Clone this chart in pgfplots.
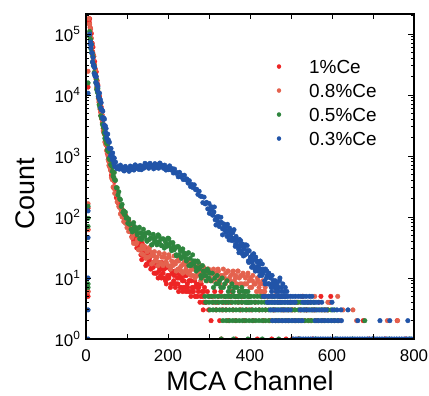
\documentclass[border=0pt]{standalone}
\usepackage{fontspec}
\setmainfont{Liberation Sans}
\usepackage{pgfplots}
\pgfplotsset{compat=1.18}
\definecolor{cred}{RGB}{237,36,36}
\definecolor{csalmon}{RGB}{228,98,78}
\definecolor{cgreen}{RGB}{46,133,62}
\definecolor{cblue}{RGB}{33,84,168}
\pgfplotsset{dots/.style={only marks, mark=*, mark size=2.3bp}}
\begin{document}
\begin{tikzpicture}
\useasboundingbox (-86bp,-57bp) rectangle (343bp,339bp);
\begin{axis}[
  at={(0,0)}, anchor=south west,
  scale only axis, width=328bp, height=325bp,
  xmin=0, xmax=800, ymode=log, ymin=1, ymax=213000,
  xtick={0,100,200,300,400,500,600,700,800}, xticklabels={0,,200,,400,,600,,800},
  ytick={1,10,100,1000,10000,100000},
  yticklabels={10\textsuperscript{0},10\textsuperscript{1},10\textsuperscript{2},10\textsuperscript{3},10\textsuperscript{4},10\textsuperscript{5}},
  minor ytick={2,3,4,5,6,7,8,9,20,30,40,50,60,70,80,90,200,300,400,500,600,700,800,900,2000,3000,4000,5000,6000,7000,8000,9000,20000,30000,40000,50000,60000,70000,80000,90000,200000},
  tick align=inside, major tick length=5.5bp, minor tick length=3bp,
  every tick/.style={black, line width=0.9bp},
  axis line style={line width=1.3bp},
  tick label style={font=\fontsize{17}{17}\selectfont},
  xticklabel style={yshift=-7bp},
  yticklabel style={xshift=-2bp},
  axis on top, clip marker paths=true,
  legend style={draw=none, fill=none, at={(axis description cs:0.572,0.882)}, anchor=north west,
    font=\fontsize{19}{19}\selectfont, row sep=0bp,
    nodes={text height=13bp, text depth=0bp, inner ysep=5.5bp, inner xsep=3bp}},
  legend cell align=left,
  legend image code/.code={\draw[#1, mark size=2bp] plot coordinates {(0bp,0bp)}; \path (-2bp,0bp) (27bp,0bp);},
]
% 1% Ce
\addplot[color=cred, dots] coordinates {
(5,13500)(5,140)(5,62)(5,6)(5,5)
(7,170000)(8,155000)(9,178000)(10,129000)(11,120000)(12,85100)(13,102000)(14,70800)(15,70800)(16,51300)(17,61000)(18,43700)(19,43200)(20,31600)(21,35500)(22,24000)(23,26300)(24,20900)(25,24000)(26,17400)(27,17400)(28,12300)(29,14500)(30,10700)(31,10350)(32,7590)(33,9440)(34,6760)(35,7000)(36,5250)(37,6380)(38,4680)(39,4730)(40,3550)(41,4070)(42,2820)(43,3160)(44,2570)(45,3020)(46,2240)(47,2290)(48,1660)(49,1995)(50,1510)(51,1480)(52,1096)(53,1380)(54,1000)(55,1047)(56,804)(57,1000)(58,750)(59,776)(60,596)(61,692)(62,484)(63,550)(64,452)(65,537)(66,406)(67,423)(68,312)(69,382)(70,295)
(72,292)(74,207)(76,210)(78,172)(80,191)(82,149)(84,148)(86,117)(88,134)(90,108)(92,109)(94,89)(96,108)(98,87)(100,93)(102,74)(104,88)(106,70)(108,71)(110,58)
(112,48)(113,68)(115,62)(116,41)(118,46)(119,51)(121,61)(122,39)(124,31)(125,52)(127,41)(128,35)(130,29)(131,39)(133,40)(134,24)(136,20)(137,37)(139,28)(140,24)(142,23)(143,25)(145,31)(146,16)(148,17)(149,27)(151,24)(152,17)(154,19)(155,21)(157,26)(158,14)(160,15)(161,24)(163,18)(164,15)(166,12)(167,18)(169,19)(170,12)(172,12)(173,18)(175,16)(176,10)(178,13)(179,15)(181,18)(182,11)(184,10)(185,18)(187,14)(188,12)(190,10)(191,14)(193,15)(194,9)(196,8)(197,15)(199,11)(200,10)(202,10)(203,11)(205,14)(206,7)(208,8)(209,13)(211,12)(212,8)(214,9)(215,11)(217,13)(218,7)(220,8)(221,12)(223,10)(224,8)(226,6)(227,10)(229,11)(230,7)(232,7)(233,10)(235,9)(236,6)(238,7)(239,9)(241,11)(242,7)(244,6)(245,11)(247,8)(248,7)(250,6)(251,9)(253,9)(254,6)(256,5)(257,9)(259,7)(260,6)(262,6)(263,7)(265,9)(266,5)(268,5)(269,8)(271,7)(272,5)(274,6)(275,7)(277,8)(278,4)(280,5)(281,8)(283,6)(284,5)(286,4)(286,3)(287,6)(289,7)(290,4)
(293,4)(296,6)(299,3)(302,5)(305,2)(308,5)(311,4)(314,6)(317,3)(320,4)(323,5)(326,2)(329,6)(332,3)(335,4)(338,5)(341,3)(344,4)(347,2)(350,5)(353,4)(356,6)(359,3)(362,5)(365,2)(368,5)(371,4)(374,6)(377,3)(380,4)(383,5)(386,2)(389,6)(392,3)(395,4)(398,5)(403,3)(408,2)(413,4)(418,1)(423,3)(428,5)(433,2)(438,3)(443,4)(448,2)(453,1)(458,3)(463,2)(468,4)(473,5)(478,2)(483,3)(488,1)(493,2)(498,4)(503,3)(508,2)(513,4)(518,1)(523,3)(528,5)(533,2)(538,3)(543,4)(548,2)(553,1)(558,3)(563,2)(568,4)(573,5)(578,2)(583,3)(590,3)(595,4)(597,5)(605,2)(615,2)(676,2)(700,1)(730,1)(759,2)(780,1)(330,1)(365,1)
};
\addlegendentry{1\%Ce}
% 0.8% Ce
\addplot[color=csalmon, dots] coordinates {
(5,24500)(5,165)(5,62)(5,6)
(7,180000)(8,145000)(9,145000)(10,105000)(11,123000)(12,87100)(13,85100)(14,61700)(15,67600)(16,44700)(17,48400)(18,38000)(19,43200)(20,30900)(21,30900)(22,21900)(23,25700)(24,19100)(25,18200)(26,13200)(27,16200)(28,11500)(29,11700)(30,8710)(31,10600)(32,7760)(33,7850)(34,5890)(35,6680)(36,4570)(37,5070)(38,4070)(39,4730)(40,3470)(41,3550)(42,2570)(43,3090)(44,2340)(45,2290)(46,1700)(47,2140)(48,1550)(49,1620)(50,1230)(51,1510)(52,1120)(53,1150)(54,871)(55,1000)(56,700)(57,794)(58,653)(59,776)(60,582)(61,603)(62,442)(63,537)(64,412)(65,407)(66,309)(67,398)(68,295)(69,316)(70,245)
(72,242)(74,234)(76,177)(78,194)(80,149)(82,143)(84,112)(86,129)(88,100)(90,104)(92,84)(94,99)(96,79)(98,81)(100,67)(102,75)(104,58)(106,65)(108,57)(110,66)
(113,54)(116,37)(119,54)(122,36)(125,42)(128,29)(131,44)(134,30)(137,34)(140,24)(143,33)(146,21)(149,27)(152,22)(155,32)(158,23)(161,26)(164,18)(167,27)(170,20)(173,22)(176,16)(179,25)(182,18)(185,22)(188,16)(191,25)(194,18)(197,21)(200,16)(203,22)(206,14)(209,19)(212,16)(215,23)(218,17)(221,19)(224,14)(227,20)(230,15)(233,16)(236,12)(239,18)(242,13)(245,16)(248,12)(251,18)(254,13)(257,15)(260,11)(263,16)(266,10)(269,14)(272,11)(275,17)(278,12)(281,14)(284,10)(287,15)(290,11)(293,12)(296,9)(299,14)(302,10)(305,12)(308,9)(311,14)(314,11)(317,12)(320,9)(323,13)(326,8)(329,11)(332,10)(335,14)(338,10)(341,12)(344,9)(347,13)(350,10)(353,11)(356,8)(359,13)(362,9)(365,11)(368,8)(371,13)(374,10)(377,11)(380,8)(383,12)(386,8)(389,10)(392,8)(395,12)(398,9)(401,10)(404,7)(407,11)(410,8)(413,8)(416,6)(419,9)(422,7)(425,8)(428,6)(431,9)(434,6)(437,7)(440,5)
(112,46)(118,52)(124,38)(130,44)(136,25)(142,30)(148,22)(154,29)(160,17)(166,23)(172,19)(178,26)(184,17)(190,22)(196,18)(202,24)(208,16)(214,18)(220,13)(226,19)(232,13)(238,17)(244,14)(250,18)(256,11)(262,14)(268,11)(274,15)(280,9)(286,12)(292,11)(298,14)(304,9)(310,13)(316,11)(322,14)(328,10)(334,11)(340,8)(346,13)(352,9)(358,12)(364,10)(370,13)(376,8)(382,11)(388,8)(394,11)(400,7)(406,9)(412,8)(418,10)(424,6)(430,8)(436,6)
(443,4)(448,2)(453,5)(458,3)(463,6)(468,2)(473,4)(478,3)(483,5)(488,2)(493,3)(498,4)(503,1)(508,3)(513,2)(518,4)(523,2)(528,5)(533,3)(538,3)(543,2)(548,4)(553,3)(558,5)(575,3)(590,4)(614,5)(620,2)(627,3)(651,3)(660,2)(690,1)(735,2)(760,2)
};
\addlegendentry{0.8\%Ce}
% 0.5% Ce
\addplot[color=cgreen, dots] coordinates {
(5,15800)(5,150)(5,95)(5,70)(5,8)(5,7)
(8,93300)(9,110000)(10,81300)(11,81300)(12,57500)(13,67600)(14,50100)(15,47900)(16,34700)(17,42700)(18,30200)(19,31300)(20,23400)(21,28500)(22,20900)(23,21100)(24,15800)(25,18000)(26,12300)(27,13600)(28,11000)(29,12700)(30,9330)(31,9550)(32,6920)(33,8320)(34,6310)(35,6170)(36,4570)(37,5750)(38,4170)(39,4370)(40,3310)(41,4070)(42,3020)(43,3130)(44,2400)(45,2790)(46,1950)(47,2210)(48,1820)(49,2160)(50,1620)(51,1700)(52,1260)(53,1550)(54,1200)(55,1200)(56,912)(57,1175)(58,871)(59,933)(60,724)(61,912)(62,692)(63,724)(64,562)(65,661)(66,468)(67,537)(68,447)(69,537)(70,407)
(72,400)(74,302)(76,301)(78,230)(80,259)(82,199)(84,192)(86,149)(88,161)(90,119)(92,126)(94,109)(96,120)(98,96)(100,98)(102,79)(104,93)(106,76)(108,77)(110,63)
(113,57)(116,81)(119,60)(122,66)(125,51)(128,65)(131,44)(134,55)(137,47)(140,63)(143,48)(146,54)(149,40)(152,56)(155,43)(158,46)(161,35)(164,52)(167,39)(170,46)(173,35)(176,51)(179,39)(182,44)(185,34)(188,44)(191,31)(194,39)(197,33)(200,45)(203,34)(206,38)(209,28)(212,38)(215,29)(218,31)(221,23)(224,33)(227,24)(230,28)(233,21)(236,30)(239,23)(242,25)(245,19)(248,25)(251,16)(254,21)(257,17)(260,24)(263,17)(266,19)(269,13)(272,19)(275,14)(278,15)(281,10)(284,16)(287,11)(290,13)(293,9)(296,14)(299,10)(302,12)(305,9)(308,12)(311,7)(314,10)(317,8)(320,11)(323,8)(326,9)(329,7)(332,10)(335,7)(338,8)(341,5)(344,9)(347,6)(350,7)(353,5)(356,8)(359,6)(362,7)(365,5)(368,7)(371,5)(374,6)(377,5)(380,7)(383,6)(386,5)(389,6)(392,4)(395,6)(398,5)(400,4)
(112,61)(118,70)(124,56)(130,68)(136,43)(142,53)(148,42)(154,54)(160,35)(166,44)(172,39)(178,49)(184,34)(190,43)(196,36)(202,44)(208,30)(214,33)(220,24)(226,32)(232,22)(238,26)(244,21)(250,26)(256,16)(262,19)(268,15)(274,18)(280,11)(286,13)(292,11)(298,13)
(290,5)(298,5)(306,5)(314,5)(322,5)(330,5)(338,5)(346,5)(354,5)(362,5)(370,5)(378,5)(386,5)(394,5)(402,5)(410,5)(418,5)(426,5)(434,5)(445,5)(458,5)(470,5)
(292,4)(300,4)(308,4)(316,4)(324,4)(332,4)(340,4)(348,4)(356,4)(364,4)(372,4)(380,4)(388,4)(396,4)(404,4)(412,4)(420,4)(428,4)(436,4)(444,4)(452,4)(460,4)(468,4)(476,4)(484,4)(492,4)(500,4)(508,4)(516,4)(524,4)(532,4)(540,4)(548,4)(556,4)
(302,3)(310,3)(318,3)(326,3)(334,3)(342,3)(350,3)(358,3)(366,3)(374,3)(382,3)(390,3)(398,3)(406,3)(414,3)(422,3)(430,3)(438,3)(446,3)(454,3)(462,3)(470,3)(478,3)(486,3)(494,3)(502,3)(510,3)(518,3)(526,3)(534,3)(542,3)(550,3)(558,3)(566,3)(574,3)(582,3)(590,3)(598,3)(606,3)
(334,2)(342,2)(350,2)(358,2)(366,2)(374,2)(382,2)(390,2)(398,2)(406,2)(414,2)(422,2)(430,2)(438,2)(446,2)(454,2)(462,2)(470,2)(478,2)(486,2)(494,2)(502,2)(510,2)(518,2)(526,2)(534,2)(542,2)(550,2)(558,2)(566,2)(574,2)(582,2)(590,2)(598,2)(606,2)(614,2)(680,2)
(330,1)(360,1)(395,1)(430,1)(470,1)(520,1)(560,1)(610,1)(650,1)(700,1)(740,1)(790,1)
};
\addlegendentry{0.5\%Ce}
% 0.3% Ce
\addplot[color=cblue, dots] coordinates {
(5,10700)(5,126)(5,46)(5,10)(5,3)(5,1)
(9,100000)(10,67600)(11,74100)(12,58900)(13,67600)(14,49000)(15,49000)(16,34700)(17,41200)(18,30900)(19,30200)(20,22400)(21,28200)(22,20400)(23,21400)(24,16200)(25,19950)(26,14800)(27,15300)(28,11750)(29,13650)(30,9550)(31,10840)(32,8910)(33,10720)(34,8130)(35,8410)(36,6170)(37,7500)(38,5750)(39,5690)(40,4270)(41,5430)(42,3980)(43,4220)(44,3240)(45,4030)(46,3020)(47,3130)(48,2400)(49,2820)(50,1995)(51,2290)(52,1905)(53,2290)(54,1740)(55,1820)(56,1350)(57,1680)(58,1320)(59,1330)(60,1023)(61,1330)(62,1000)(63,1096)(64,871)(65,1122)(66,871)(67,944)(68,759)(69,923)(70,676)
(72,794)(75,624)(78,676)(81,610)(84,708)(87,610)(90,653)(93,569)(96,676)(99,596)(102,631)(105,562)(108,684)(111,596)(114,661)(117,589)(120,716)(123,631)(126,676)(129,603)(132,700)(135,596)(138,676)(141,631)(144,759)(147,668)(150,716)(153,631)(156,759)(159,668)(162,700)(165,617)(168,750)(171,653)(174,716)(177,631)(180,767)(183,668)(186,708)(189,631)(192,708)(195,589)(198,653)
(201,598)(204,689)(207,594)(210,624)(213,528)(216,611)(219,524)(222,533)(225,457)(228,541)(231,457)(234,484)(237,412)(240,484)(243,409)(246,421)(249,360)(252,394)(255,316)(258,342)(261,303)(264,337)(267,281)(270,285)(273,235)(276,264)(279,220)(282,218)(285,172)(288,212)(291,164)(294,174)(297,136)(300,167)(303,131)(306,134)(309,107)(312,121)(315,90)(318,100)(321,86)(324,101)(327,79)(330,82)(333,64)(336,77)(339,61)
(342,70)(344,48)(346,59)(348,50)(350,66)(352,50)(354,55)(356,41)(358,55)(360,42)(362,44)(364,33)(366,48)(368,35)(370,41)(372,30)(374,43)(376,33)(378,36)(380,28)(382,36)(384,23)(386,30)(388,24)(390,35)(392,25)(394,28)(396,19)(398,28)(400,20)(402,22)(404,15)(406,24)(408,16)(410,20)(412,14)(414,22)(416,15)(418,18)(420,13)(422,17)(424,11)(426,14)(428,12)(430,17)(432,12)(434,14)(436,9)(438,14)(440,10)(442,11)(444,8)(446,12)(448,8)(450,10)(452,7)(454,11)(456,8)(458,9)(460,7)(462,9)(464,6)(466,8)(468,7)(470,6)(472,9)(474,5)(476,7)(478,6)(480,8)(482,5)(484,6)(486,7)(488,5)(490,6)
(301,115)(305,148)(309,110)(313,146)(317,74)(321,101)(325,70)(329,99)(333,51)(337,68)(341,56)(345,76)(349,42)(353,60)(357,45)(361,62)(365,36)(369,41)(373,26)(377,41)(381,25)(385,33)(389,25)(393,34)(397,18)(401,22)(405,18)(409,25)(413,13)(417,19)(421,15)(425,19)(429,11)(433,13)(437,8)(441,13)(445,8)(449,11)(453,6)(457,9)(461,7)(465,8)(469,7)(473,10)(477,5)
(432,5)(437,5)(445,5)(451,5)(457,5)(463,5)(469,5)(475,5)(481,5)(487,5)(493,5)(499,5)(505,5)(511,5)(518,5)(524,5)(530,5)(537,5)(545,5)(551,5)
(442,4)(448,4)(455,4)(461,4)(467,4)(473,4)(479,4)(486,4)(492,4)(498,4)(504,4)(510,4)(529,4)(535,4)(541,4)(548,4)(555,4)(561,4)(567,4)(575,4)(600,4)
(450,3)(458,3)(466,3)(474,3)(482,3)(490,3)(498,3)(522,3)(530,3)(538,3)(546,3)(554,3)(562,3)(570,3)(578,3)(586,3)(602,3)(612,3)(622,3)(639,3)
(455,2)(463,2)(471,2)(479,2)(487,2)(495,2)(503,2)(511,2)(519,2)(527,2)(559,2)(567,2)(575,2)(583,2)(591,2)(599,2)(607,2)(615,2)(623,2)(663,2)(717,2)(741,2)(785,2)
(506,1)(512,1)(518,1)(524,1)(530,1)(536,1)(542,1)(548,1)(554,1)(560,1)(566,1)(572,1)(578,1)(584,1)(590,1)(596,1)(602,1)(608,1)(614,1)(620,1)(626,1)(632,1)(638,1)(644,1)(650,1)(656,1)(662,1)(668,1)(674,1)(680,1)(686,1)(692,1)(698,1)(704,1)(710,1)(716,1)(722,1)(728,1)(734,1)(740,1)(746,1)(752,1)(758,1)(764,1)(770,1)(776,1)(782,1)(788,1)(794,1)(800,1)
};
\addlegendentry{0.3\%Ce}
\end{axis}
\node[anchor=base, font=\fontsize{27}{27}\selectfont, inner sep=0pt] at (164bp,-51bp) {MCA Channel};
\node[anchor=base, rotate=90, font=\fontsize{27}{27}\selectfont, inner sep=0pt] at (-51bp,145bp) {Count};
\end{tikzpicture}
\end{document}
